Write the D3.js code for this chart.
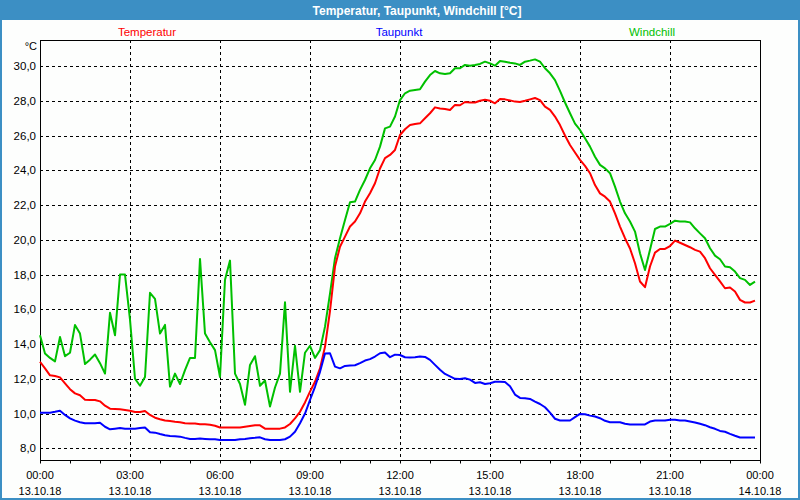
<!DOCTYPE html>
<html>
<head>
<meta charset="utf-8">
<script src="https://cdn.jsdelivr.net/npm/d3@7"></script>
<style>
  html, body { margin: 0; padding: 0; background: #ffffff; }
  svg { display: block; }
</style>
</head>
<body>
<svg id="chart" width="800" height="500"></svg>
<script>
// ---- Data (10-minute steps, 13.10.18 00:00 .. 23:50) ----
const chartTitle = "Temperatur, Taupunkt, Windchill [°C]";
const seriesNames = ["Temperatur", "Taupunkt", "Windchill"];
const yTicks = [8, 10, 12, 14, 16, 18, 20, 22, 24, 26, 28, 30];
const xTickHours = [0, 3, 6, 9, 12, 15, 18, 21, 24];
const xTimeLabels = ["00:00", "03:00", "06:00", "09:00", "12:00", "15:00", "18:00", "21:00", "00:00"];
const xDateLabels = ["13.10.18", "13.10.18", "13.10.18", "13.10.18", "13.10.18", "13.10.18", "13.10.18", "13.10.18", "14.10.18"];

const temperatur = [
  12.98,12.6,12.2,12.16,12.08,11.74,11.4,11.16,11.05,10.8,10.78,10.78,
  10.7,10.45,10.28,10.26,10.24,10.2,10.16,10.09,10.09,10.15,9.92,9.76,
  9.67,9.6,9.57,9.53,9.5,9.44,9.42,9.42,9.38,9.38,9.36,9.3,
  9.2,9.19,9.19,9.19,9.2,9.24,9.28,9.32,9.32,9.13,9.13,9.13,
  9.13,9.2,9.4,9.72,10.1,10.64,11.26,11.83,12.6,13.84,15.9,18.46,
  19.6,20.18,20.76,21.05,21.52,22.2,22.68,23.25,24.1,24.7,24.88,25.17,
  26.03,26.36,26.6,26.66,26.7,26.99,27.28,27.62,27.55,27.53,27.47,27.76,
  27.74,27.93,27.9,27.9,28.0,28.06,28.0,27.85,28.1,28.08,28.02,27.95,
  27.93,28.0,28.08,28.16,28.04,27.66,27.47,27.09,26.6,26.0,25.45,25.02,
  24.6,24.25,23.83,23.15,22.67,22.48,22.2,21.52,20.76,20.09,19.5,18.65,
  17.6,17.27,18.46,19.26,19.47,19.47,19.64,19.95,19.83,19.7,19.57,19.42,
  19.32,18.94,18.36,17.98,17.6,17.21,17.25,17.02,16.54,16.39,16.39,16.5
];
const taupunkt = [
  10.05,10.05,10.05,10.1,10.16,9.92,9.72,9.59,9.5,9.44,9.44,9.44,
  9.47,9.24,9.09,9.13,9.17,9.13,9.13,9.13,9.17,9.2,8.92,8.9,
  8.82,8.75,8.71,8.69,8.67,8.6,8.54,8.54,8.56,8.54,8.52,8.52,
  8.48,8.48,8.48,8.48,8.52,8.54,8.58,8.6,8.63,8.52,8.48,8.48,
  8.48,8.52,8.67,8.95,9.44,10.0,10.78,11.54,12.4,13.46,13.47,12.7,
  12.6,12.74,12.76,12.78,12.9,13.05,13.13,13.28,13.47,13.51,13.24,13.39,
  13.37,13.24,13.22,13.24,13.28,13.26,13.09,12.8,12.52,12.28,12.14,12.0,
  11.99,12.03,11.95,11.76,11.8,11.7,11.74,11.83,11.83,11.82,11.57,11.09,
  10.9,10.88,10.84,10.69,10.55,10.36,10.05,9.7,9.6,9.6,9.6,9.79,
  9.98,9.96,9.88,9.83,9.73,9.58,9.5,9.5,9.5,9.41,9.37,9.37,
  9.37,9.37,9.54,9.6,9.6,9.6,9.64,9.64,9.6,9.6,9.54,9.48,
  9.41,9.33,9.21,9.12,9.0,8.95,8.83,8.72,8.62,8.62,8.62,8.62
];
const windchill = [
  14.5,13.46,13.2,13.0,14.4,13.3,13.5,15.1,14.6,12.85,13.1,13.4,
  12.9,12.3,15.8,14.5,18.0,18.0,15.4,12.0,11.6,12.1,16.95,16.6,
  14.6,15.1,11.55,12.3,11.7,12.5,13.2,13.2,18.9,14.6,14.1,13.65,
  12.1,17.7,18.8,12.3,11.7,10.5,12.8,13.3,11.6,11.9,10.4,11.5,
  12.3,16.4,11.25,13.9,11.25,13.5,13.9,13.2,13.65,15.0,16.9,18.94,
  20.09,21.14,22.16,22.2,22.87,23.44,24.11,24.59,25.36,26.41,26.51,27.09,
  28.04,28.43,28.58,28.62,28.66,29.1,29.48,29.71,29.58,29.54,29.58,29.87,
  29.87,30.06,30.02,30.06,30.12,30.25,30.15,30.02,30.29,30.25,30.19,30.15,
  30.06,30.25,30.31,30.38,30.25,29.87,29.58,29.19,28.57,27.9,27.28,26.68,
  26.32,25.84,25.36,24.78,24.31,24.11,23.83,23.06,22.2,21.52,21.05,20.47,
  19.22,18.26,19.42,20.62,20.76,20.76,20.91,21.1,21.05,21.05,21.0,20.66,
  20.37,20.09,19.51,19.09,18.88,18.46,18.42,18.17,17.79,17.69,17.4,17.59
];
const stepMinutes = 10;

// ---- Layout ----
const W = 800, H = 500;
const plot = { left: 40, right: 760, top: 40, bottom: 460 };
const frameBlue = "#3c8fc4";
const colors = { Temperatur: "#ff0000", Taupunkt: "#0000ff", Windchill: "#00c000" };
const font = "'Liberation Sans', Arial, sans-serif";

const svg = d3.select("#chart");

// window frame + title bar
svg.append("rect").attr("x", 0).attr("y", 0).attr("width", W).attr("height", H).attr("fill", frameBlue);
svg.append("rect").attr("x", 2).attr("y", 20).attr("width", W - 4).attr("height", H - 22).attr("fill", "#fdfefd");
svg.append("text").attr("x", 417).attr("y", 14.5).attr("text-anchor", "middle")
  .attr("fill", "#ffffff").attr("font-family", font).attr("font-weight", "bold").attr("font-size", "12px")
  .text(chartTitle);

// scales
const x = d3.scaleLinear().domain([0, 24 * 60]).range([plot.left, plot.right]);
const y = d3.scaleLinear().domain([7.326, 31.496]).range([plot.bottom, plot.top]);
const crisp = v => Math.round(v) + 0.5;

// legend
const legendX = { Temperatur: 147, Taupunkt: 399, Windchill: 652 };
seriesNames.forEach(n => {
  svg.append("text").attr("x", legendX[n]).attr("y", 36).attr("text-anchor", "middle")
    .attr("fill", colors[n]).attr("font-family", font).attr("font-size", "11.5px").text(n);
});

// grid
const grid = svg.append("g").attr("stroke", "#000").attr("stroke-width", 1).attr("stroke-dasharray", "3,3");
yTicks.forEach(v => {
  grid.append("line").attr("x1", plot.left).attr("x2", plot.right)
    .attr("y1", crisp(y(v))).attr("y2", crisp(y(v)));
});
xTickHours.slice(1, -1).forEach(h => {
  grid.append("line").attr("y1", plot.top).attr("y2", plot.bottom)
    .attr("x1", crisp(x(h * 60))).attr("x2", crisp(x(h * 60)));
});

// y labels
const fmt = d3.format(".1f");
const yAxis = d3.axisLeft(y).tickValues(yTicks).tickSize(0).tickPadding(4)
  .tickFormat(v => fmt(v).replace(".", ","));
const gy = svg.append("g").attr("transform", `translate(${plot.left},0)`).call(yAxis);
gy.select(".domain").remove();
gy.selectAll("text").attr("font-family", font).attr("font-size", "11.5px").attr("fill", "#000")
  .attr("x", -4);
svg.append("text").attr("x", 37).attr("y", 50).attr("text-anchor", "end")
  .attr("font-family", font).attr("font-size", "11px").attr("fill", "#000").text("°C");

// x hour ticks
const xAxis = d3.axisBottom(x).tickValues(d3.range(0, 25).map(h => h * 60)).tickSize(3).tickFormat("");
const gx = svg.append("g").attr("transform", `translate(0,${plot.bottom + 0.5})`).call(xAxis);
gx.select(".domain").remove();
gx.selectAll(".tick line").attr("stroke", "#000");

// x labels
xTickHours.forEach((h, i) => {
  svg.append("text").attr("x", x(h * 60)).attr("y", 479).attr("text-anchor", "middle")
    .attr("font-family", font).attr("font-size", "11px").attr("fill", "#000").text(xTimeLabels[i]);
  svg.append("text").attr("x", x(h * 60)).attr("y", 495).attr("text-anchor", "middle")
    .attr("font-family", font).attr("font-size", "11px").attr("fill", "#000").text(xDateLabels[i]);
});

// plot border
svg.append("rect").attr("x", plot.left + 0.5).attr("y", plot.top + 0.5)
  .attr("width", plot.right - plot.left - 1 + 1).attr("height", plot.bottom - plot.top)
  .attr("fill", "none").attr("stroke", "#000").attr("stroke-width", 1);

// series lines
const line = d3.line().x((d, i) => x(i * stepMinutes)).y(d => y(d));
const seriesData = { Windchill: windchill, Temperatur: temperatur, Taupunkt: taupunkt };
["Windchill", "Temperatur", "Taupunkt"].forEach(n => {
  svg.append("path").datum(seriesData[n]).attr("d", line)
    .attr("fill", "none").attr("stroke", colors[n]).attr("stroke-width", 2)
    .attr("stroke-linejoin", "round");
});
</script>
</body>
</html>
